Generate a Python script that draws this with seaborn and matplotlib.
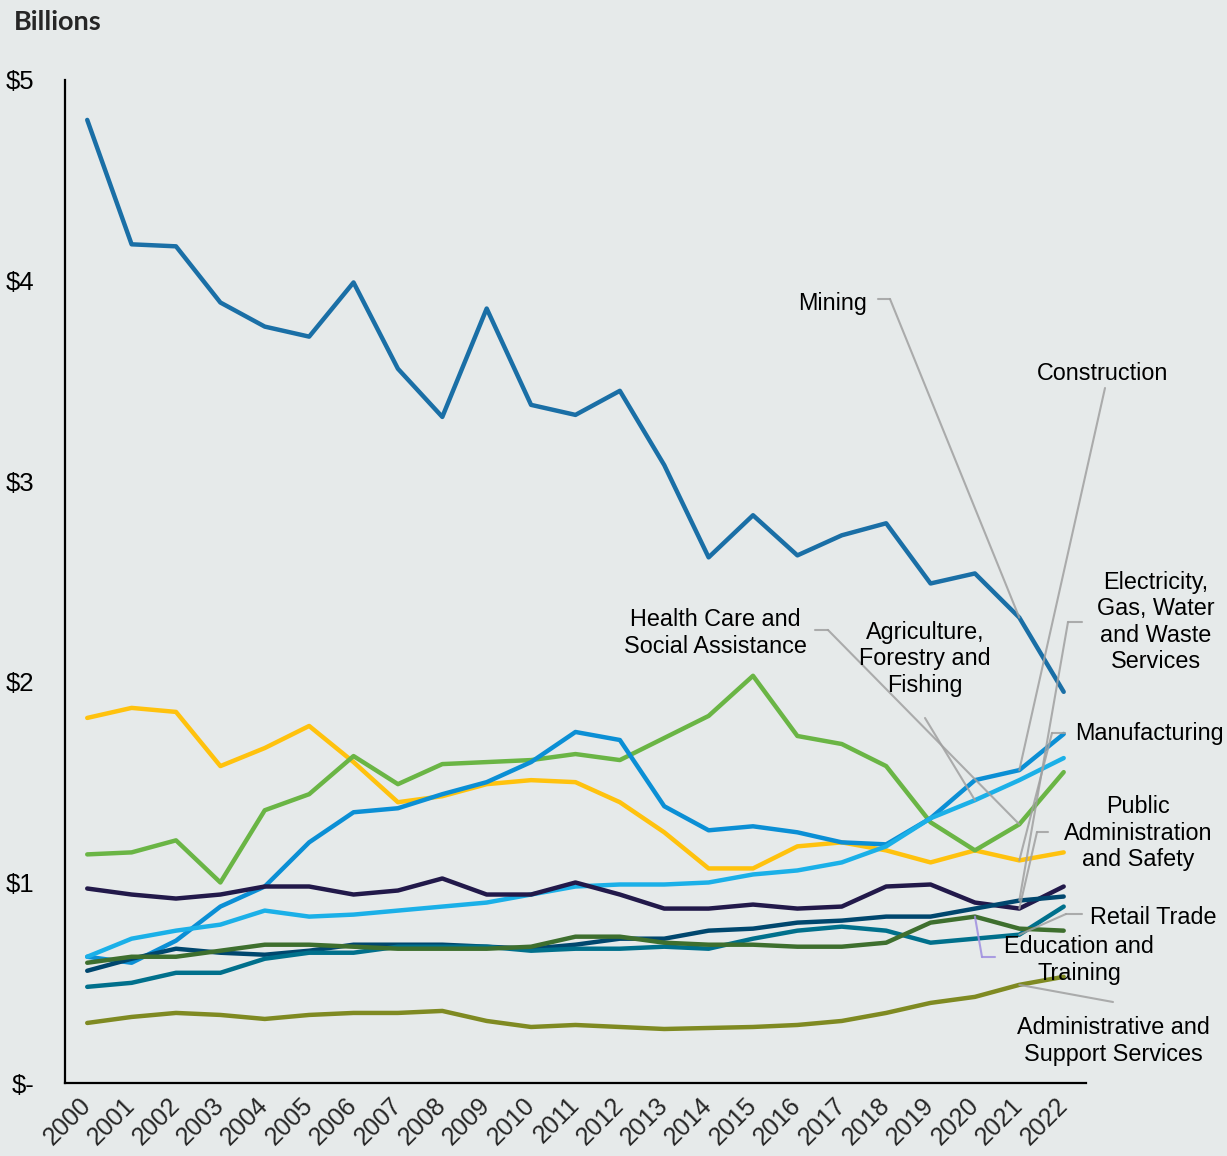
import numpy as np
import pandas as pd
import matplotlib
matplotlib.use("Agg")
import matplotlib.pyplot as plt
import seaborn as sns

# Values in $ billions
years = list(range(2000, 2023))

mining = [4.80, 4.18, 4.17, 3.89, 3.77, 3.72, 3.99, 3.56, 3.32, 3.86, 3.38, 3.33,
          3.45, 3.08, 2.62, 2.83, 2.63, 2.73, 2.79, 2.49, 2.54, 2.32, 1.95]
manufacturing = [1.82, 1.87, 1.85, 1.58, 1.67, 1.78, 1.60, 1.40, 1.43, 1.49, 1.51, 1.50,
                 1.40, 1.25, 1.07, 1.07, 1.18, 1.20, 1.16, 1.10, 1.16, 1.11, 1.15]
health_care = [1.14, 1.15, 1.21, 1.00, 1.36, 1.44, 1.63, 1.49, 1.59, 1.60, 1.61, 1.64,
               1.61, 1.72, 1.83, 2.03, 1.73, 1.69, 1.58, 1.30, 1.16, 1.29, 1.55]
construction = [0.63, 0.60, 0.71, 0.88, 0.98, 1.20, 1.35, 1.37, 1.44, 1.50, 1.60, 1.75,
                1.71, 1.38, 1.26, 1.28, 1.25, 1.20, 1.19, 1.32, 1.51, 1.56, 1.74]
agriculture = [0.63, 0.72, 0.76, 0.79, 0.86, 0.83, 0.84, 0.86, 0.88, 0.90, 0.94, 0.98,
               0.99, 0.99, 1.00, 1.04, 1.06, 1.10, 1.18, 1.32, 1.41, 1.51, 1.62]
public_admin = [0.97, 0.94, 0.92, 0.94, 0.98, 0.98, 0.94, 0.96, 1.02, 0.94, 0.94, 1.00,
                0.94, 0.87, 0.87, 0.89, 0.87, 0.88, 0.98, 0.99, 0.90, 0.87, 0.98]
electricity = [0.56, 0.62, 0.67, 0.65, 0.64, 0.66, 0.69, 0.69, 0.69, 0.68, 0.67, 0.69,
               0.72, 0.72, 0.76, 0.77, 0.80, 0.81, 0.83, 0.83, 0.87, 0.91, 0.93]
retail = [0.48, 0.50, 0.55, 0.55, 0.62, 0.65, 0.65, 0.68, 0.68, 0.68, 0.66, 0.67,
          0.67, 0.68, 0.67, 0.72, 0.76, 0.78, 0.76, 0.70, 0.72, 0.74, 0.88]
education = [0.60, 0.63, 0.63, 0.66, 0.69, 0.69, 0.68, 0.67, 0.67, 0.67, 0.68, 0.73,
             0.73, 0.70, 0.69, 0.69, 0.68, 0.68, 0.70, 0.80, 0.83, 0.77, 0.76]
admin_support = [0.30, 0.33, 0.35, 0.34, 0.32, 0.34, 0.35, 0.35, 0.36, 0.31, 0.28, 0.29,
                 0.28, 0.27, 0.275, 0.28, 0.29, 0.31, 0.35, 0.40, 0.43, 0.49, 0.53]

series = {
    "Mining": mining,
    "Manufacturing": manufacturing,
    "Health Care and Social Assistance": health_care,
    "Construction": construction,
    "Agriculture, Forestry and Fishing": agriculture,
    "Public Administration and Safety": public_admin,
    "Electricity, Gas, Water and Waste Services": electricity,
    "Retail Trade": retail,
    "Education and Training": education,
    "Administrative and Support Services": admin_support,
}
colors = {
    "Mining": "#1a6fa6",
    "Manufacturing": "#ffc20e",
    "Health Care and Social Assistance": "#6ab545",
    "Construction": "#0b8fd5",
    "Agriculture, Forestry and Fishing": "#1bb0e8",
    "Public Administration and Safety": "#22194a",
    "Electricity, Gas, Water and Waste Services": "#00476e",
    "Retail Trade": "#00708c",
    "Education and Training": "#3e6f2e",
    "Administrative and Support Services": "#7f8a22",
}

df = pd.concat([pd.DataFrame({"idx": range(len(years)), "value": v, "industry": k})
                for k, v in series.items()], ignore_index=True)

sns.set_theme(style="white")
plt.rcParams["font.family"] = ["Liberation Sans", "DejaVu Sans"]
bg = "#e6eaea"
fs = 16.8

fig = plt.figure(figsize=(12.27, 11.56), dpi=100, facecolor=bg)
ax = fig.add_axes([0.053, 0.063, 0.832, 0.868], facecolor=bg)

sns.lineplot(data=df, x="idx", y="value", hue="industry", palette=colors,
             linewidth=3.2, legend=False, ax=ax)

ax.set_xlim(-0.5, len(years) - 0.5)
ax.set_ylim(0, 5)
for s in ["top", "right"]:
    ax.spines[s].set_visible(False)
for s in ["left", "bottom"]:
    ax.spines[s].set_color("black")
    ax.spines[s].set_linewidth(1.6)
ax.set_xlabel("")
ax.set_ylabel("")

ax.set_yticks([0, 1, 2, 3, 4, 5])
ax.set_yticklabels(["$-", "$1", "$2", "$3", "$4", "$5"], fontsize=18.5)
ax.tick_params(axis="y", direction="in", length=6, width=1.4, pad=22, colors="black")

# ticks at year boundaries, labels at year centres
ax.set_xticks(np.arange(0.5, len(years) - 1, 1.0))
ax.set_xticklabels([])
ax.tick_params(axis="x", which="major", direction="in", length=7, width=1.4)
ax.set_xticks(range(len(years)), minor=True)
ax.set_xticklabels([str(y) for y in years], minor=True, rotation=45, ha="right",
                   va="center", rotation_mode="anchor", fontsize=18)
ax.tick_params(axis="x", which="minor", length=0, pad=13)

fig.text(0.011, 0.981, "Billions", fontsize=19.5, fontweight="bold",
         family=["Lato", "DejaVu Sans"], va="center")


def px(x, y):
    # pixel position on the figure -> data coordinates
    return ax.transData.inverted().transform(
        fig.transFigure.transform((x / 1227, 1 - y / 1156)))


lead_col = "#a0a0a0"
labels = [
    # text, text pos (px), ha, stub (x0, x1, y) px or None, series, year
    ("Mining", (867, 303), "right", (878, 890, 299), "Mining", 2021),
    ("Construction", (1103, 373), "center", None, "Construction", 2021),
    ("Electricity,\nGas, Water\nand Waste\nServices", (1156, 622), "center",
     (1082, 1068, 622), "Electricity, Gas, Water and Waste Services", 2021),
    ("Health Care and\nSocial Assistance", (715, 633), "center",
     (815, 828, 630), "Health Care and Social Assistance", 2021),
    ("Agriculture,\nForestry and\nFishing", (925, 659), "center", None,
     "Agriculture, Forestry and Fishing", 2020),
    ("Manufacturing", (1075, 734), "left", (1065, 1052, 733), "Manufacturing", 2021),
    ("Public\nAdministration\nand Safety", (1138, 833), "center",
     (1048, 1037, 832), "Public Administration and Safety", 2021),
    ("Retail Trade", (1090, 918), "left", (1082, 1066, 914), "Retail Trade", 2021),
    ("Education and\nTraining", (1079, 960), "center", (995, 982, 957),
     "Education and Training", 2020),
    ("Administrative and\nSupport Services", (1113, 1041), "center", None,
     "Administrative and Support Services", 2021),
]
starts = {"Construction": (1105, 388), "Agriculture, Forestry and Fishing": (925, 718),
          "Administrative and Support Services": (1113, 1002)}

for text, (tx, ty), ha, stub, name, yr in labels:
    tdx, tdy = px(tx, ty)
    ax.text(tdx, tdy, text, ha=ha, va="center", fontsize=fs, linespacing=1.2,
            color="black", zorder=6)
    target = (years.index(yr), series[name][years.index(yr)])
    col = "#9f8fe0" if name == "Education and Training" else lead_col
    if stub is not None:
        a = px(stub[0], stub[2])
        b = px(stub[1], stub[2])
        ax.plot([a[0], b[0]], [a[1], b[1]], color=col, lw=1.5, alpha=0.85, zorder=5)
        corner = b
    else:
        corner = px(*starts[name])
    ax.annotate("", xy=target, xytext=corner,
                arrowprops=dict(arrowstyle="-", color=col, lw=1.5, alpha=0.85,
                                shrinkA=0, shrinkB=0), zorder=5)

fig.savefig("out.png", dpi=100, facecolor=bg)
